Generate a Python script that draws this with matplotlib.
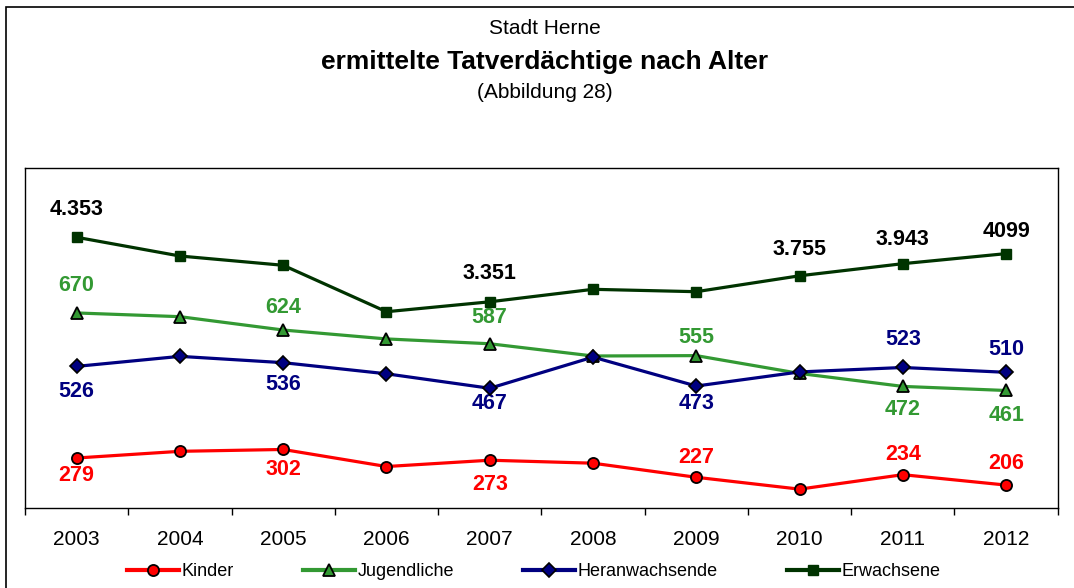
"""
Stadt Herne - ermittelte Tatverdächtige nach Alter (Abbildung 28).
"""
import matplotlib
matplotlib.use("Agg")
import matplotlib.pyplot as plt
from matplotlib.lines import Line2D
from matplotlib.ticker import FixedLocator

plt.rcParams["font.family"] = ["Liberation Sans", "DejaVu Sans"]

YEARS = ["2003", "2004", "2005", "2006", "2007", "2008", "2009", "2010", "2011", "2012"]

KINDER = [279, 297, 302, 256, 273, 265, 227, 195, 234, 206]
JUGENDLICHE = [670, 660, 624, 600, 587, 554, 555, 507, 472, 461]
HERANWACHSENDE = [526, 553, 536, 506, 467, 551, 473, 511, 523, 510]
ERWACHSENE = [4353, 4062, 3918, 3197, 3351, 3545, 3508, 3755, 3943, 4099]

# (year index, label text) for the values written next to the markers
KINDER_LABELS = [(0, "279"), (2, "302"), (4, "273"), (6, "227"), (8, "234"), (9, "206")]
JUGENDLICHE_LABELS = [(0, "670"), (2, "624"), (4, "587"), (6, "555"), (8, "472"), (9, "461")]
HERANWACHSENDE_LABELS = [(0, "526"), (2, "536"), (4, "467"), (6, "473"), (8, "523"), (9, "510")]
ERWACHSENE_LABELS = [(0, "4.353"), (4, "3.351"), (7, "3.755"), (8, "3.943"), (9, "4099")]

# vertical offsets of the labels in pixels (negative = below the marker)
KINDER_DY = [-18, -20, -24, 20, 20, 22]
JUGENDLICHE_DY = [27, 23, 26, 18, -23, -25]
HERANWACHSENDE_DY = [-25, -22, -15, -17, 28, 23]
ERWACHSENE_DY = [28, 28, 26, 24, 22]

RED = "#FF0000"
GREEN = "#339933"
NAVY = "#000080"
DARKGREEN = "#003300"


def add_labels(ax, values, labels, offsets, color):
    for (i, text), dy in zip(labels, offsets):
        ax.annotate(text, (i, values[i]), xytext=(0, dy), textcoords="offset pixels",
                    ha="center", va="center", fontsize=15.5, fontweight="bold", color=color)


def main() -> None:
    fig = plt.figure(figsize=(10.74, 5.88), dpi=100)
    fig.patches.append(plt.Rectangle((6 / 1074, -0.1), 2.0, 1.1 - 7.5 / 588, transform=fig.transFigure,
                                     fill=False, edgecolor="black", linewidth=1.2))

    ax = fig.add_axes([25 / 1074, 1 - 507.7 / 588, 1032.7 / 1074, 339.4 / 588])
    ax2 = ax.twinx()
    x = list(range(len(YEARS)))

    ax.plot(x, KINDER, color=RED, lw=2.3, marker="o", ms=8, mfc=RED, mec="black", mew=1.3,
            label="Kinder", zorder=3)
    ax.plot(x, JUGENDLICHE, color=GREEN, lw=2.3, marker="^", ms=9, mfc=GREEN, mec="black", mew=1.3,
            label="Jugendliche", zorder=3)
    ax.plot(x, HERANWACHSENDE, color=NAVY, lw=2.3, marker="D", ms=7, mfc=NAVY, mec="black", mew=1.2,
            label="Heranwachsende", zorder=4)
    ax2.plot(x, ERWACHSENE, color=DARKGREEN, lw=2.3, marker="s", ms=7, mfc=DARKGREEN, mec=DARKGREEN,
             label="Erwachsene")

    ax.set_xlim(-0.5, len(YEARS) - 0.5)
    ax.set_ylim(145, 1060)
    ax2.set_ylim(154, 5424)

    add_labels(ax, KINDER, KINDER_LABELS, KINDER_DY, RED)
    add_labels(ax, JUGENDLICHE, JUGENDLICHE_LABELS, JUGENDLICHE_DY, GREEN)
    add_labels(ax, HERANWACHSENDE, HERANWACHSENDE_LABELS, HERANWACHSENDE_DY, NAVY)
    add_labels(ax2, ERWACHSENE, ERWACHSENE_LABELS, ERWACHSENE_DY, "black")

    ax.set_xticks(x)
    ax.set_xticklabels(YEARS, fontsize=15)
    ax.tick_params(axis="x", which="major", length=0, pad=16)
    ax.xaxis.set_minor_locator(FixedLocator([i - 0.5 for i in range(len(YEARS) + 1)]))
    ax.tick_params(axis="x", which="minor", length=5, width=1, direction="out")
    ax.set_yticks([])
    ax2.set_yticks([])
    for spine in ax.spines.values():
        spine.set_linewidth(1.0)
    for spine in ax2.spines.values():
        spine.set_visible(False)

    fig.text(0.507, 1 - 28 / 588, "Stadt Herne", ha="center", va="center", fontsize=15)
    fig.text(0.507, 1 - 62 / 588, "ermittelte Tatverdächtige nach Alter", ha="center", va="center",
             fontsize=19, fontweight="bold")
    fig.text(0.507, 1 - 93 / 588, "(Abbildung 28)", ha="center", va="center", fontsize=15)

    handles = [
        Line2D([], [], color=RED, lw=3, marker="o", ms=8, mfc=RED, mec="black", mew=1.3),
        Line2D([], [], color=GREEN, lw=3, marker="^", ms=9, mfc=GREEN, mec="black", mew=1.3),
        Line2D([], [], color=NAVY, lw=3, marker="D", ms=7, mfc=NAVY, mec="black", mew=1.2),
        Line2D([], [], color=DARKGREEN, lw=3, marker="s", ms=7, mfc=DARKGREEN, mec=DARKGREEN),
    ]
    fig.legend(handles, ["Kinder", "Jugendliche", "Heranwachsende", "Erwachsene"], loc="center",
               bbox_to_anchor=(0.497, 1 - 572 / 588), ncol=4, frameon=False, fontsize=13,
               handlelength=2.9, handletextpad=0.15, columnspacing=3.8)

    fig.savefig("out.png", dpi=100)
    plt.close(fig)


if __name__ == "__main__":
    main()
